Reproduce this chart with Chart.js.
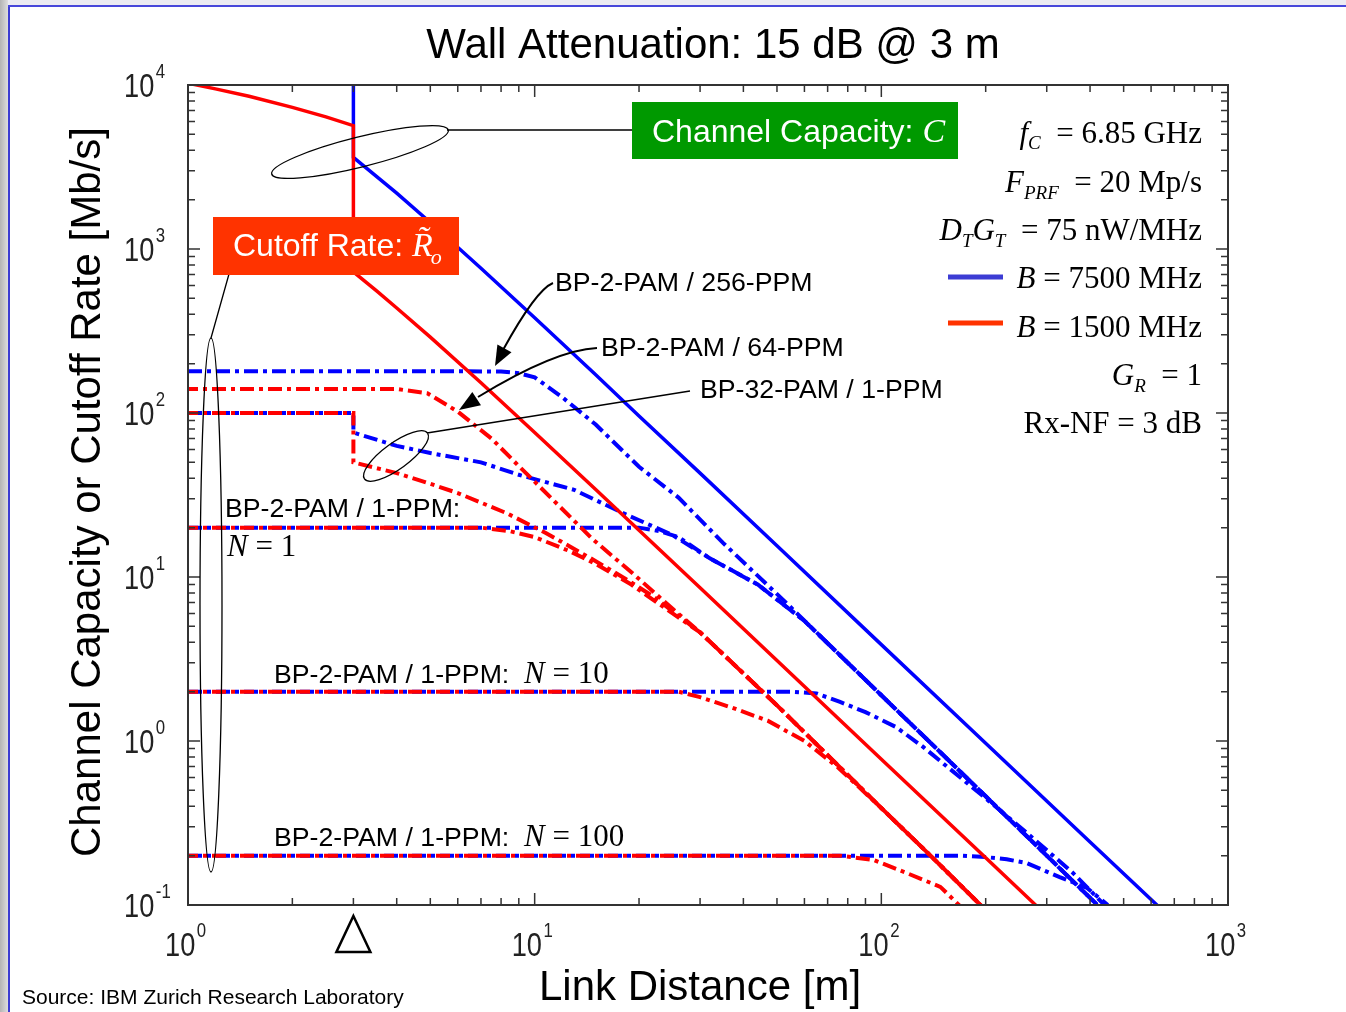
<!DOCTYPE html>
<html>
<head>
<meta charset="utf-8">
<script src="https://cdn.jsdelivr.net/npm/chart.js@4.4.0/dist/chart.umd.min.js"></script>
<style>
  html, body { margin: 0; padding: 0; background: #fff; }
  #wrap { position: relative; width: 1346px; height: 1012px; overflow: hidden; background: #fff; }
  #edgeLeft { position: absolute; left: 0; top: 0; width: 8px; height: 1012px; background: linear-gradient(to right, #b4b4b4, #dedede); }
  #edgeTop { position: absolute; left: 8px; top: 0; width: 1338px; height: 5px; background: #ececf2; }
  #lineLeft { position: absolute; left: 8px; top: 5px; width: 2px; height: 1007px; background: #3c3cd2; }
  #lineTop { position: absolute; left: 8px; top: 5px; width: 1338px; height: 2px; background: #4848da; }
  canvas { position: absolute; left: 0; top: 0; }
</style>
</head>
<body>
<div id="wrap">
  <div id="edgeLeft"></div><div id="edgeTop"></div><div id="lineLeft"></div><div id="lineTop"></div>
  <canvas id="chart" width="1346" height="1012"></canvas>
</div>
<script>
// link distance [m] and rate [Mb/s]
const capBlueDist = [3, 3, 4, 5, 7, 10, 15, 20, 30, 50, 100, 200, 400, 630];
const capBlueRate = [10000, 3620, 2190, 1450, 763, 381, 171, 96, 43, 15.5, 3.87, 0.97, 0.242, 0.098];

const capRedDist = [1, 1.2, 1.5, 2, 2.5, 3, 3, 3.5, 4, 5, 7, 10, 15, 20, 30, 50, 100, 200, 280];
const capRedRate = [10250, 9470, 8530, 7310, 6390, 5650, 725, 555, 437, 290, 153, 76, 34.2, 19.3, 8.6, 3.1, 0.775, 0.194, 0.099];

const ppm256Dist = [1, 5, 8, 9, 10, 12, 15, 20, 26, 35, 53, 80, 100, 150, 200, 300, 420];
const ppm256Rate = [180, 180, 179, 175, 165, 125, 85, 47, 30.5, 16.1, 7.0, 3.0, 1.9, 0.83, 0.46, 0.2, 0.1];

const ppm64Dist = [1, 4, 4.9, 6, 7.5, 9, 11.3, 14.7, 19.2, 25, 30, 50, 75, 100, 140, 196];
const ppm64Rate = [140, 140, 132, 102, 70, 47.5, 29.5, 17, 10.5, 6.4, 4.6, 1.65, 0.71, 0.39, 0.196, 0.097];

const pam32BlueDist = [1, 3, 3, 4, 5, 7, 9, 13, 18, 25, 32, 44, 60, 80, 100, 150, 200, 300, 420];
const pam32BlueRate = [100, 100, 76, 63, 57, 50, 42, 34, 24.5, 18, 13, 9, 5.4, 3.0, 1.9, 0.83, 0.46, 0.2, 0.1];

const pam32RedDist = [1, 3, 3, 4, 5, 6, 8.3, 10.8, 14.8, 18.5, 22, 30, 50, 75, 100, 140, 196];
const pam32RedRate = [100, 100, 50, 43, 37, 32.5, 24.5, 18.5, 12.7, 9.6, 7.6, 4.6, 1.65, 0.71, 0.39, 0.196, 0.097];

const n1BlueDist = [1, 20, 23, 26, 32, 44, 60, 80, 100, 150, 200, 300, 420];
const n1BlueRate = [20, 20, 19, 17.5, 13, 9, 5.4, 3.0, 1.9, 0.83, 0.46, 0.2, 0.1];

const n1RedDist = [1, 7, 8.5, 10, 12.5, 15, 19, 25, 30, 50, 75, 100, 140, 196];
const n1RedRate = [20, 20, 19, 17.5, 14.5, 12, 9, 6, 4.6, 1.65, 0.71, 0.39, 0.196, 0.097];

const n10BlueDist = [1, 55, 65, 76, 90, 110, 132, 192, 263, 357, 440];
const n10BlueRate = [2, 2, 1.95, 1.73, 1.5, 1.22, 0.92, 0.48, 0.275, 0.157, 0.1];

const n10RedDist = [1, 26, 30, 37, 47, 60, 75, 100, 140, 196];
const n10RedRate = [2, 2, 1.85, 1.6, 1.33, 1.0, 0.69, 0.39, 0.196, 0.097];

const n100BlueDist = [1, 170, 200, 230, 263, 327, 392, 450];
const n100BlueRate = [0.2, 0.2, 0.196, 0.19, 0.18, 0.148, 0.127, 0.1];

const n100RedDist = [1, 76, 95, 118, 148, 170];
const n100RedRate = [0.2, 0.2, 0.188, 0.157, 0.129, 0.097];

// axis ticks
const xMajorTicks = [1, 10, 100, 1000];
const xTickExp = ['0', '1', '2', '3'];
const yMajorTicks = [0.1, 1, 10, 100, 1000, 10000];
const yTickExp = ['-1', '0', '1', '2', '3', '4'];
const minorSteps = [2, 3, 4, 5, 6, 7, 8, 9];
const wallDist = 3;

const BLUE = '#0000ff';
const RED = '#ff0000';
const DASHDOT = [14, 5, 4, 5];
const SANS = '"Liberation Sans", Arial, sans-serif';
const SERIF = '"Liberation Serif", "Times New Roman", serif';

function pts(xs, ys) {
  return xs.map((x, i) => ({ x: x, y: ys[i] }));
}

function curve(xs, ys, color, dashed) {
  const red = color === RED;
  return {
    data: pts(xs, ys),
    borderColor: color,
    borderWidth: dashed ? 4 : 3.5,
    borderDash: dashed ? DASHDOT : [],
    borderDashOffset: red ? 4 : 0,
    pointRadius: 0,
    tension: 0,
    fill: false,
    order: red ? 0 : 1
  };
}

// draw a row of text pieces: [text, font, dy]
function runs(ctx, parts, x, y, align) {
  let w = 0;
  parts.forEach(p => { ctx.font = p[1]; w += ctx.measureText(p[0]).width; });
  let cx = align === 'right' ? x - w : (align === 'center' ? x - w / 2 : x);
  parts.forEach(p => {
    ctx.font = p[1];
    ctx.fillText(p[0], cx, y + (p[2] || 0));
    cx += ctx.measureText(p[0]).width;
  });
  return cx;
}

function arrowHead(ctx, fx, fy, tx, ty, len, half) {
  const a = Math.atan2(ty - fy, tx - fx);
  ctx.beginPath();
  ctx.moveTo(tx, ty);
  ctx.lineTo(tx - len * Math.cos(a) + half * Math.sin(a), ty - len * Math.sin(a) - half * Math.cos(a));
  ctx.lineTo(tx - len * Math.cos(a) - half * Math.sin(a), ty - len * Math.sin(a) + half * Math.cos(a));
  ctx.closePath();
  ctx.fill();
}

const decor = {
  id: 'decor',
  afterDraw(chart) {
    const ctx = chart.ctx;
    const a = chart.chartArea;
    const xs = chart.scales.x, ys = chart.scales.y;
    ctx.save();

    // frame
    ctx.strokeStyle = '#333';
    ctx.lineWidth = 2;
    ctx.strokeRect(a.left, a.top, a.right - a.left, a.bottom - a.top);

    // inward ticks on all four sides
    ctx.lineWidth = 1.5;
    ctx.beginPath();
    xMajorTicks.forEach((v, i) => {
      const px = xs.getPixelForValue(v);
      ctx.moveTo(px, a.bottom); ctx.lineTo(px, a.bottom - 12);
      ctx.moveTo(px, a.top); ctx.lineTo(px, a.top + 12);
      if (i < xMajorTicks.length - 1) {
        minorSteps.forEach(m => {
          const mx = xs.getPixelForValue(v * m);
          ctx.moveTo(mx, a.bottom); ctx.lineTo(mx, a.bottom - 7);
          ctx.moveTo(mx, a.top); ctx.lineTo(mx, a.top + 7);
        });
      }
    });
    yMajorTicks.forEach((v, i) => {
      const py = ys.getPixelForValue(v);
      ctx.moveTo(a.left, py); ctx.lineTo(a.left + 12, py);
      ctx.moveTo(a.right, py); ctx.lineTo(a.right - 12, py);
      if (i < yMajorTicks.length - 1) {
        minorSteps.forEach(m => {
          const my = ys.getPixelForValue(v * m);
          ctx.moveTo(a.left, my); ctx.lineTo(a.left + 7, my);
          ctx.moveTo(a.right, my); ctx.lineTo(a.right - 7, my);
        });
      }
    });
    ctx.stroke();

    // tick labels 10^n, slightly condensed
    ctx.fillStyle = '#222';
    ctx.textBaseline = 'alphabetic';
    function power(x, y, exp) {
      ctx.save();
      ctx.translate(x, y);
      ctx.scale(0.8, 1);
      ctx.font = '34px ' + SANS;
      ctx.fillText('10', 0, 0);
      const w = ctx.measureText('10').width;
      ctx.font = '21px ' + SANS;
      ctx.fillText(exp, w + 2, -19);
      ctx.restore();
    }
    yMajorTicks.forEach((v, i) => {
      power(124, ys.getPixelForValue(v) + 12, yTickExp[i]);
    });
    xMajorTicks.forEach((v, i) => {
      power(xs.getPixelForValue(v) - 23, 956, xTickExp[i]);
    });

    // wall marker
    const wx = xs.getPixelForValue(wallDist);
    ctx.strokeStyle = '#000';
    ctx.lineWidth = 2.5;
    ctx.beginPath();
    ctx.moveTo(wx, 916); ctx.lineTo(wx + 17, 952); ctx.lineTo(wx - 17, 952); ctx.closePath();
    ctx.stroke();

    // titles
    ctx.fillStyle = '#000';
    ctx.font = '42px ' + SANS;
    ctx.textAlign = 'center';
    ctx.fillText('Wall Attenuation: 15 dB @ 3 m', 713, 58);
    ctx.fillText('Link Distance [m]', 700, 1000);
    ctx.save();
    ctx.translate(100, 492);
    ctx.rotate(-Math.PI / 2);
    ctx.fillText('Channel Capacity or Cutoff Rate [Mb/s]', 0, 0);
    ctx.restore();
    ctx.textAlign = 'left';
    ctx.font = '21px ' + SANS;
    ctx.fillText('Source: IBM Zurich Research Laboratory', 22, 1004);

    // callout lines and ellipses
    ctx.strokeStyle = '#000';
    ctx.lineWidth = 1.3;
    ctx.beginPath();
    ctx.ellipse(360, 152, 91, 15, -14 * Math.PI / 180, 0, Math.PI * 2);
    ctx.moveTo(447, 130); ctx.lineTo(632, 130);
    ctx.stroke();
    ctx.beginPath();
    ctx.ellipse(211, 605, 11, 267, 0, 0, Math.PI * 2);
    ctx.moveTo(229, 274); ctx.lineTo(211, 338);
    ctx.stroke();
    ctx.beginPath();
    ctx.ellipse(396, 456, 39, 13, -36 * Math.PI / 180, 0, Math.PI * 2);
    ctx.moveTo(427, 433); ctx.lineTo(690, 391);
    ctx.stroke();

    // arrows
    ctx.fillStyle = '#000';
    ctx.lineWidth = 2;
    ctx.beginPath();
    ctx.moveTo(553, 283);
    ctx.quadraticCurveTo(536, 290, 503, 350);
    ctx.stroke();
    arrowHead(ctx, 510, 338, 495, 366, 20, 8);
    ctx.beginPath();
    ctx.moveTo(597, 348);
    ctx.quadraticCurveTo(555, 350, 478, 397);
    ctx.stroke();
    arrowHead(ctx, 490, 390, 459, 410, 21, 8);

    // boxes
    ctx.fillStyle = '#009900';
    ctx.fillRect(632, 102, 326, 57);
    ctx.fillStyle = '#ff3300';
    ctx.fillRect(213, 217, 246, 58);
    ctx.fillStyle = '#fff';
    let cx = runs(ctx, [['Channel Capacity: ', '32px ' + SANS]], 652, 142, 'left');
    ctx.font = 'italic 34px ' + SERIF;
    ctx.fillText('C', cx, 142);
    cx = runs(ctx, [['Cutoff Rate: ', '32px ' + SANS]], 233, 256, 'left');
    ctx.font = 'italic 34px ' + SERIF;
    ctx.fillText('R', cx, 256);
    const rw = ctx.measureText('R').width;
    ctx.fillText('\u02DC', cx + 5, 250);
    ctx.font = 'italic 22px ' + SERIF;
    ctx.fillText('o', cx + rw - 2, 264);

    // curve labels
    ctx.fillStyle = '#000';
    const lab = '26.7px ' + SANS;
    const mth = '31px ' + SERIF;
    const mthI = 'italic 31px ' + SERIF;
    runs(ctx, [['BP-2-PAM / 256-PPM', lab]], 555, 291, 'left');
    runs(ctx, [['BP-2-PAM / 64-PPM', lab]], 601, 356, 'left');
    runs(ctx, [['BP-32-PAM / 1-PPM', lab]], 700, 398, 'left');
    runs(ctx, [['BP-2-PAM / 1-PPM:', lab]], 225, 517, 'left');
    runs(ctx, [['N', mthI], [' = 1', mth]], 227, 556, 'left');
    runs(ctx, [['BP-2-PAM / 1-PPM:  ', lab], ['N', mthI], [' = 10', mth]], 274, 683, 'left');
    runs(ctx, [['BP-2-PAM / 1-PPM:  ', lab], ['N', mthI], [' = 100', mth]], 274, 846, 'left');

    // parameter block and legend
    const sub = 'italic 19px ' + SERIF;
    const R = 1202;
    runs(ctx, [['f', mthI], ['C', sub, 6], ['  = 6.85 GHz', mth]], R, 143, 'right');
    runs(ctx, [['F', mthI], ['PRF', sub, 7], ['  = 20 Mp/s', mth]], R, 192, 'right');
    runs(ctx, [['D', mthI], ['T', sub, 7], ['G', mthI], ['T', sub, 7], ['  = 75 nW/MHz', mth]], R, 240, 'right');
    runs(ctx, [['B', mthI], [' = 7500 MHz', mth]], R, 288, 'right');
    runs(ctx, [['B', mthI], [' = 1500 MHz', mth]], R, 337, 'right');
    runs(ctx, [['G', mthI], ['R', sub, 7], ['  = 1', mth]], R, 385, 'right');
    runs(ctx, [['Rx-NF = 3 dB', mth]], R, 433, 'right');
    ctx.lineWidth = 5;
    ctx.strokeStyle = '#3c3cd4';
    ctx.beginPath(); ctx.moveTo(948, 277); ctx.lineTo(1003, 277); ctx.stroke();
    ctx.strokeStyle = '#ff3300';
    ctx.beginPath(); ctx.moveTo(948, 323); ctx.lineTo(1003, 323); ctx.stroke();

    ctx.restore();
  }
};

new Chart(document.getElementById('chart').getContext('2d'), {
  type: 'line',
  data: {
    datasets: [
      curve(capRedDist, capRedRate, RED, false),
      curve(ppm64Dist, ppm64Rate, RED, true),
      curve(pam32RedDist, pam32RedRate, RED, true),
      curve(n1RedDist, n1RedRate, RED, true),
      curve(n10RedDist, n10RedRate, RED, true),
      curve(n100RedDist, n100RedRate, RED, true),
      curve(capBlueDist, capBlueRate, BLUE, false),
      curve(ppm256Dist, ppm256Rate, BLUE, true),
      curve(pam32BlueDist, pam32BlueRate, BLUE, true),
      curve(n1BlueDist, n1BlueRate, BLUE, true),
      curve(n10BlueDist, n10BlueRate, BLUE, true),
      curve(n100BlueDist, n100BlueRate, BLUE, true)
    ]
  },
  options: {
    responsive: false,
    animation: false,
    devicePixelRatio: 1,
    layout: { padding: { left: 188, top: 85, right: 118, bottom: 107 } },
    scales: {
      x: { type: 'logarithmic', min: 1, max: 1000, display: false },
      y: { type: 'logarithmic', min: 0.1, max: 10000, display: false }
    },
    plugins: {
      legend: { display: false },
      tooltip: { enabled: false },
      title: { display: false }
    }
  },
  plugins: [decor]
});
</script>
</body>
</html>
